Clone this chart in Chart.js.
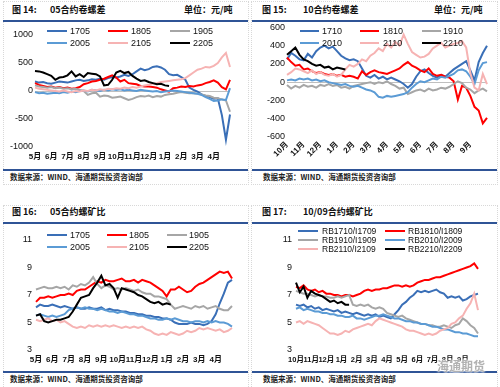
<!DOCTYPE html>
<html><head><meta charset="utf-8">
<script src="https://cdn.jsdelivr.net/npm/chart.js@4.4.1/dist/chart.umd.min.js"></script>
<style>
body{margin:0;background:#fff;width:500px;height:387px;overflow:hidden;position:relative;font-family:'Liberation Sans','Noto Sans CJK SC',sans-serif;}
.a{position:absolute;white-space:nowrap}
.title{font-family:'Noto Sans CJK SC',sans-serif;font-weight:700;font-size:9px;line-height:12px;color:#111}
.rule{height:2px;background:#2F5496}
.foot{font-family:'Noto Sans CJK SC',sans-serif;font-weight:700;font-size:7.5px;line-height:10px;color:#222}
.box{border:1px dotted #d8d8d8;box-sizing:border-box}
.lt{font-size:9px;line-height:10px;color:#111}
canvas{position:absolute}
.wm{font-family:'Noto Sans CJK SC',sans-serif;font-weight:700;font-size:12px;color:rgba(170,170,170,0.9);text-shadow:0 0 2px #fff,0 0 2px #fff,0 0 3px #fff}
</style></head>
<body>
<div class="a box" style="left:3px;top:1px;width:246px;height:184px"></div>
<div class="a box" style="left:251px;top:1px;width:247px;height:184px"></div>
<div class="a box" style="left:3px;top:205px;width:246px;height:184px"></div>
<div class="a box" style="left:251px;top:205px;width:247px;height:184px"></div>

<div class="a title" style="left:12px;top:4px">图 14:</div>
<div class="a title" style="left:50px;top:4px">05合约卷螺差</div>
<div class="a title" style="left:184px;top:4px">单位：元/吨</div>
<div class="a title" style="left:262px;top:4px">图 15:</div>
<div class="a title" style="left:303px;top:4px">10合约卷螺差</div>
<div class="a title" style="left:434px;top:4px">单位：元/吨</div>
<div class="a title" style="left:12px;top:206px">图 16:</div>
<div class="a title" style="left:50px;top:206px">05合约螺矿比</div>
<div class="a title" style="left:262px;top:206px">图 17:</div>
<div class="a title" style="left:303px;top:206px">10/09合约螺矿比</div>

<div class="a rule" style="left:3px;top:20px;width:245px"></div>
<div class="a rule" style="left:252px;top:20px;width:245px"></div>
<div class="a rule" style="left:3px;top:169px;width:245px"></div>
<div class="a rule" style="left:252px;top:169px;width:245px"></div>
<div class="a rule" style="left:3px;top:222px;width:245px"></div>
<div class="a rule" style="left:252px;top:222px;width:245px"></div>
<div class="a rule" style="left:3px;top:371px;width:245px"></div>
<div class="a rule" style="left:252px;top:371px;width:245px"></div>

<div class="a foot" style="left:10px;top:172px">数据来源：WIND、海通期货投资咨询部</div>
<div class="a foot" style="left:263px;top:172px">数据来源：WIND、海通期货投资咨询部</div>
<div class="a foot" style="left:10px;top:374px">数据来源：WIND、海通期货投资咨询部</div>
<div class="a foot" style="left:263px;top:374px">数据来源：WIND、海通期货投资咨询部</div>

<canvas id="c14" width="245" height="150" style="left:0;top:20px"></canvas>
<canvas id="c15" width="250" height="150" style="left:250px;top:20px"></canvas>
<canvas id="c16" width="245" height="145" style="left:0;top:225px"></canvas>
<canvas id="c17" width="250" height="145" style="left:250px;top:225px"></canvas>
<div id="legends"></div>
<div class="a wm" style="left:437px;top:357px">海通期货</div>

<script>
// ---------- categories ----------
const months05 = ['5月','6月','7月','8月','9月','10月','11月','12月','1月','2月','3月','4月'];
const months10 = ['10月','11月','12月','1月','2月','3月','4月','5月','6月','7月','8月','9月'];

// ---------- 图14 05合约卷螺差 (元/吨) ----------
const names14 = ['1705','1805','1905','2005','2105','2205'];
const s14_1705 = [170,150,160,140, 130,150,170,160, 150,170,190,200, 180,190,210,200, 220,200,230,250, 240,260,290,270, 300,350,400,370, 390,430,440,420, 380,300,280,290, 250,200,60,20, -10,-60,-90,-110, -140,-130,-430,-870, -420];
const s14_1805 = [140,110,90,70, 80,60,70,50, 60,40,50,70, 120,140,170,180, 200,220,250,280, 240,170,200,140, 130,120,90,80, 80,70,60,30, 10,-10,50,60, 80,70,90,80, 100,110,140,160, 190,150,70,30, 200];
const s14_1905 = [100,80,70,60, 70,50,60,40, 50,30,40,20, 0,-70,-40,-30, -100,-80,-90,-120, -110,-100,-130,-160, -140,-110,-90,-100, -80,-110,-90,-100, -70,-60,-50,-30, -20,-30,-40,-40, -50,-60,-80,-90, -120,-130,-150,-170, -370];
const s14_2005 = [-20,-40,-30,-50, -40,-30,-40,-20, -30,-10,-20,0, 10,-10,20,10, 0,20,10,30, 20,30,10,20, 10,0,20,10, 0,-10,0,-20, -10,0,10,0, -10,-20,-30,-40, -50,-70,-110,-140, -180,-170,-150,-160, 50];
const s14_2105 = [60,40,30,20, 10,0,-10,10, -10,-20,0,-10, 10,0,20,10, 30,20,40,30, 50,40,60,50, 70,60,80,100, 110,130,140,160, 170,180,190,200, 210,230,280,330, 380,400,430,420, 450,500,600,680, 430];
const s14_2205 = [357,350,330,300, 270,200,240,250, 280,350,260,300, 250,320,310,300, 260,100,110,200, 330,360,320,340, 270,220,180,190, 160,140,120,130, 100,90];

// ---------- 图15 10合约卷螺差 (元/吨) ----------
const names15 = ['1710','1810','1910','2010','2110','2210'];
const s15_1710 = [250,320,290,250, 240,310,270,340, 380,400,370,390, 340,290,260,240, 250,230,150,70, 50,80,40,60, 30,50,30,10, -20,-60,-20,60, 120,140,100,70, 50,80,60,100, 140,170,200,230, 130,20,220,320, 400];
const s15_1810 = [270,220,180,190, 140,150,120,100, 110,90,80,90, 70,80,60,70, 60,40,120,80, 110,130,110,100, 90,110,130,150, 190,220,180,160, 130,110,150,90, 70,80,60,50, 10,-190,-40,-60, -150,-270,-310,-450, -390];
const s15_1910 = [-30,-70,-40,-60, -30,-50,-40,-60, -30,-40,-20,-40, -30,-60,-50,-70, -40,-30,-20,-10, 0,-20,0,-10, 10,-20,-40,-70, -60,-130,-110,-90, -80,-100,-70,-90, -80,-60,-70,-50, -20,10,-10,-60, -80,-120,-90,-70, -100];
const s15_2010 = [20,30,20,40, 30,40,20,30, 10,20,0,-10, -20,-30,-20,-40, -50,-40,-60,-80, -90,-110,-160,-170, -150,-160,-150,-140, -130,-110,-60,-20, 10,0,20,40, 30,60,50,70, 90,130,140,120, 60,-20,130,210, 220];
const s15_2110 = [80,110,150,140, 120,100,130,90, 110,80,70,90, 60,80,140,190, 170,200,250,230, 290,320,370,340, 420,380,440,400, 520,420,330,300, 270,280,310,370, 400,430,380,400, 420,430,450,380, 100,-60,-90,90, -20];
const s15_2210 = [300,340,380,300, 250,230,200,180, 190,160,170,140, 160,150,140];

// ---------- 图16 05合约螺矿比 ----------
const names16 = ['1705','1805','1905','2005','2105','2205'];
const s16_1705 = [6.1,6.3,6.2,6.2, 6.3,6.2,6.1,6.2, 6.1,6.0,6.1,6.0, 6.0,6.1,6.0,6.0, 6.1,5.9,6.0,5.9, 5.9,5.8,5.8,5.7, 5.7,5.6,5.6,5.5, 5.5,5.4,5.4,5.3, 5.3,5.2,5.0,4.9, 4.9,4.9,5.0,4.9, 4.9,4.8,4.9,5.1, 5.6,6.4,7.1,7.9, 8.1];
const s16_1805 = [6.5,6.8,6.8,6.9, 6.8,6.9,7.0,7.0, 7.1,7.0,7.3,7.4, 7.4,7.6,7.8,8.0, 7.9,8.1,8.0,8.0, 8.1,8.2,8.0,8.0, 8.1,7.9,8.1,8.0, 7.9,7.7,7.5,7.3, 6.9,7.4,7.4,7.6, 7.4,7.2,7.3,7.6, 7.8,7.9,8.1,8.3, 8.5,8.7,8.6,8.7, 8.2];
const s16_1905 = [7.4,7.5,7.6,7.5, 7.5,7.6,7.5,7.6, 7.4,7.7,7.6,7.8, 7.7,7.9,8.3,7.8, 7.5,7.7,7.6,7.4, 7.5,7.4,7.5,7.4, 7.3,7.4,7.2,7.1, 7.1,6.9,6.9,6.8, 6.7,6.3,6.0,6.1, 6.2,6.1,6.0,6.2, 6.1,6.2,6.0,6.1, 6.2,6.0,5.9,5.9, 6.2];
const s16_2005 = [5.5,5.6,5.5,5.4, 5.5,5.4,5.5,5.6, 5.9,6.0,6.1,6.0, 6.1,6.0,6.0,5.9, 6.0,5.9,5.8,5.8, 5.7,5.8,5.7,5.6, 5.6,5.5,5.5,5.4, 5.3,5.3,5.2,5.2, 5.3,5.2,5.3,5.2, 5.1,5.1,5.0,5.1, 5.1,5.0,5.1,5.0, 5.1,5.0,5.0,4.9, 4.7];
const s16_2105 = [5.2,5.1,5.2,5.3, 5.1,5.2,5.0,5.1, 4.9,4.7,4.6,4.7, 4.6,4.8,4.7,4.8, 4.7,4.8,4.7,4.8, 4.7,4.6,4.7,4.6, 4.7,4.6,4.7,4.5, 4.4,4.2,4.1,4.2, 4.1,4.3,4.2,4.1, 4.2,4.4,4.3,4.4, 4.6,4.5,4.6,4.5, 4.4,4.5,4.3,4.4, 4.6];
const s16_2205 = [5.5,5.6,5.1,5.0, 5.1,5.2,5.2,5.3, 5.4,5.8,6.3,6.8, 6.9,7.0,7.5,7.9, 8.4,7.7,7.8,7.5, 6.8,7.5,7.4,7.3, 7.2,7.0,6.9,6.7, 6.5,6.4,6.5,6.3, 6.4,6.3];

// ---------- 图17 10/09合约螺矿比 ----------
const names17 = ['RB1710/I1709','RB1810/I1809','RB1910/I1909','RB2010/I2009','RB2110/I2109','RB2210/I2209'];
const s17_1710 = [6.3,6.2,6.3,6.1, 6.2,6.0,6.1,5.9, 6.0,5.9,5.8,5.9, 5.7,5.8,5.7,5.6, 5.7,5.6,5.5,5.6, 5.5,5.6,5.4,5.5, 5.4,5.3,5.6,5.9, 6.3,6.5,6.8,7.0, 7.3,7.2,7.3,7.2, 7.3,7.4,7.2,7.1, 6.8,6.9,6.8,6.9, 6.6,6.7,6.9,7.0, 7.1];
const s17_1810 = [7.6,7.5,7.7,7.4, 7.3,7.4,7.2,7.3, 7.1,7.1,7.0,7.0, 6.9,7.0,7.0,6.9, 7.0,7.1,7.3,7.4, 7.3,7.4,7.4,7.5, 7.5,7.6,7.7,7.7, 7.6,7.7,7.6,7.7, 7.9,8.0,8.1,8.1, 8.2,8.3,8.3,8.4, 8.5,8.6,8.7,8.8, 8.9,9.0,9.1,9.3, 8.9];
const s17_1910 = [7.3,7.2,7.1,7.1, 7.0,6.9,7.0,6.9, 6.9,6.8,6.8,6.9, 6.8,6.9,7.0,6.3, 6.2,6.3,6.2,6.3, 6.1,6.0,6.1,6.0, 5.7,5.6,5.5,5.4, 5.5,5.3,5.2,5.1, 5.0,4.9,4.9,4.8, 4.8,4.7,4.7,4.8, 4.7,4.6,4.8,4.9, 5.3,5.1,4.8,4.6, 4.2];
const s17_2010 = [6.0,6.1,5.9,6.0, 5.9,5.8,5.8,5.7, 5.7,5.6,5.6,5.5, 5.5,5.4,5.4,5.5, 5.3,5.3,5.2,5.3, 5.4,5.5,5.5,5.6, 5.5,5.4,5.3,5.3, 5.2,5.1,5.1,5.0, 5.0,4.9,4.9,4.8, 4.7,4.7,4.6,4.5, 4.5,4.4,4.3,4.3, 4.2,4.2,4.1,4.0, 4.0];
const s17_2110 = [5.0,5.1,4.9,5.1, 5.0,4.9,4.8,4.6, 4.4,4.2,4.2,4.1, 4.2,4.4,4.3,4.5, 4.6,4.7,4.8,4.9, 4.8,5.1,5.3,5.2, 5.1,5.0,4.9,4.8, 4.7,4.5,4.4,4.4, 4.3,4.2,4.1,4.2, 4.1,4.2,4.4,4.5, 4.6,4.9,5.0,5.3, 5.5,6.0,6.4,7.1, 5.9];
const s17_2210 = [7.9,7.2,7.6,6.8, 7.3,7.1,7.0,6.9, 6.7,6.5,6.6,6.4, 6.5,6.3,6.3];

const seriesColors = ['#3A6FB7','#FF0000','#A6A6A6','#5B9BD5','#F6B3B3','#000000'];

// ---------- helpers ----------
const N = 49;
function xLabels(months){ return Array.from({length:N},(_,i)=> (i%4===0 && i<48) ? months[i/4] : ''); }

function build(id, months, names, data, y, geo){
  const datasets = data.map((d,k)=>({
    label:names[k], data:d, borderColor:seriesColors[k], backgroundColor:seriesColors[k],
    borderWidth:2, pointRadius:0, tension:0, fill:false, order:5-k
  }));
  new Chart(document.getElementById(id),{
    type:'line',
    data:{labels:xLabels(months), datasets},
    options:{
      responsive:false, animation:false, events:[],
      layout:{padding:{left:0,right:geo.right,top:geo.top,bottom:0}},
      plugins:{legend:{display:false},tooltip:{enabled:false}},
      scales:{
        x:{type:'category', offset:false,
           grid:{display:false,drawTicks:false}, border:{display:false},
           ticks:{autoSkip:false, maxRotation:geo.rot, minRotation:geo.rot, padding:geo.xpad,
                  color:'#111', font:{size:geo.xfont, weight:'bold', family:"'Liberation Sans','Noto Sans CJK SC',sans-serif"}},
           afterFit:s=>{s.height=geo.xh;}},
        y:{min:y.min,max:y.max,
           ticks:{stepSize:y.step,padding:geo.ypad,color:'#111',font:{size:9,family:"'Liberation Sans',sans-serif"},
                  callback:v=>String(v)},
           grid:{display:y.zero,drawTicks:false,lineWidth:1,
                 color:c=> (c.tick && c.tick.value===0) ? '#BFBFBF' : 'rgba(0,0,0,0)'},
           border:{display:false},
           afterFit:s=>{s.width=geo.yw;}}
      }
    }
  });
}

build('c14', months05, names14, [s14_1705,s14_1805,s14_1905,s14_2005,s14_2105,s14_2205],
  {min:-1000,max:1000,step:500,zero:true}, {right:15,top:15,xh:23,yw:35,rot:0,xpad:5,ypad:2,xfont:8});
build('c15', months10, names15, [s15_1710,s15_1810,s15_1910,s15_2010,s15_2110,s15_2210],
  {min:-600,max:600,step:200,zero:true}, {right:13,top:7,xh:33,yw:37,rot:45,xpad:3,ypad:2,xfont:8});
build('c16', months05, names16, [s16_1705,s16_1805,s16_1905,s16_2005,s16_2105,s16_2205],
  {min:3,max:11,step:2,zero:false}, {right:13,top:15,xh:20,yw:36,rot:0,xpad:5,ypad:4,xfont:8});
build('c17', months10, names17, [s17_1710,s17_1810,s17_1910,s17_2010,s17_2110,s17_2210],
  {min:3,max:11,step:2,zero:false}, {right:22,top:15,xh:20,yw:46,rot:0,xpad:5,ypad:4,xfont:7.5});

// ---------- legends (HTML) ----------
function legend(names, rowsY, lineX, textX, cols, lw, fs){
  const host = document.getElementById('legends');
  names.forEach((n,k)=>{
    const r = Math.floor(k/cols), c = k%cols;
    const ln = document.createElement('div');
    ln.className='a';
    ln.style.cssText = `left:${lineX[c]}px;top:${rowsY[r]-1.25}px;width:${lw}px;height:2.5px;background:${seriesColors[k]}`;
    host.appendChild(ln);
    const tx = document.createElement('div');
    tx.className='a lt';
    tx.style.cssText = `left:${textX[c]}px;top:${rowsY[r]-5}px;font-size:${fs}px`;
    tx.textContent = n;
    host.appendChild(tx);
  });
}
legend(names14,[31,43],[47,108,170],[70,131,193],3,20,9);
legend(names15,[31,43],[300,360,422],[322,383,443],3,19,9);
legend(names16,[235,247],[47,107,167],[70,129,189],3,20,9);
legend(names17,[231,240,249],[298,385],[322,408],2,20,8.5);
</script>
</body></html>
